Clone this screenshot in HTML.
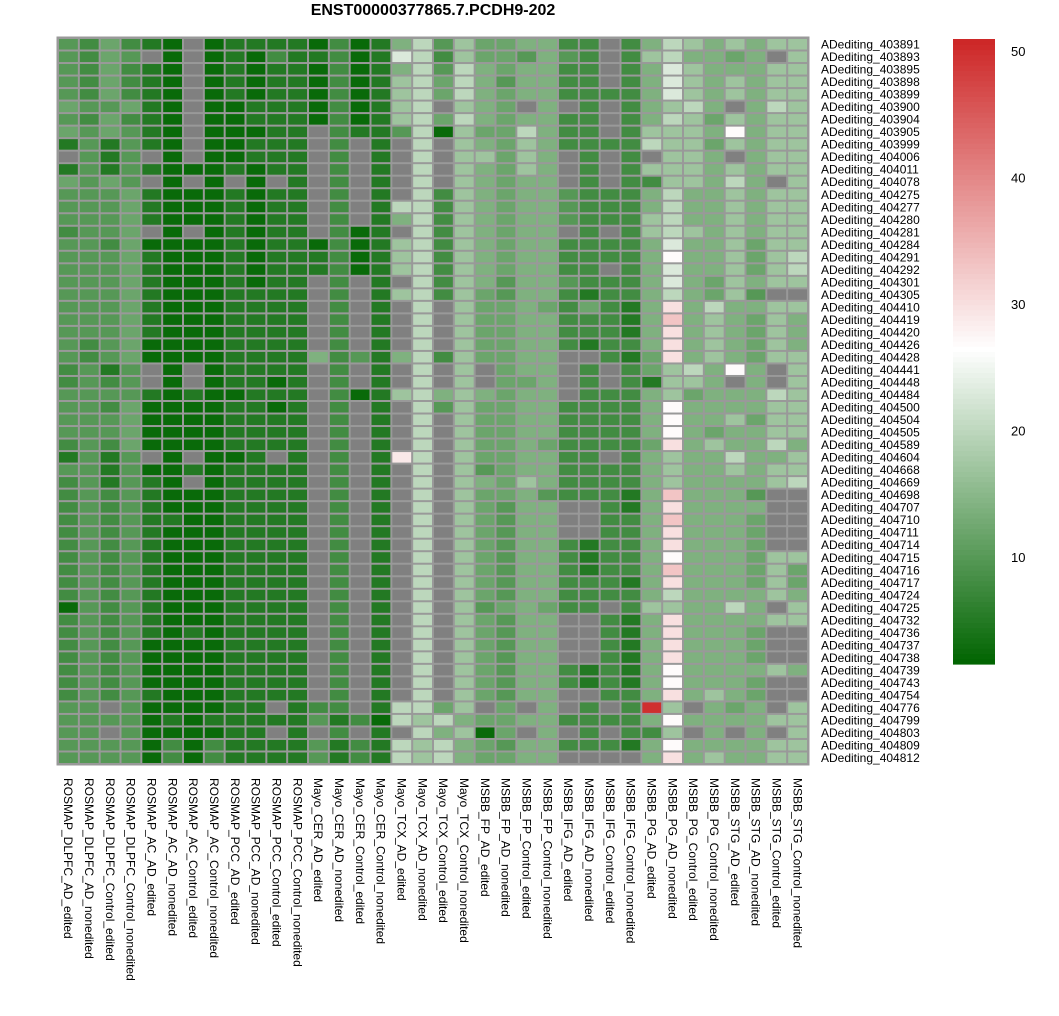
<!DOCTYPE html>
<html><head><meta charset="utf-8">
<style>
html,body{margin:0;padding:0;background:#fff;}
svg{display:block;font-family:"Liberation Sans",Arial,sans-serif;}
</style></head>
<body>
<svg id="chart" width="1059" height="1016" viewBox="0 0 1059 1016" xmlns="http://www.w3.org/2000/svg">
<text x="433" y="15" font-size="16" font-weight="bold" text-anchor="middle" fill="#000">ENST00000377865.7.PCDH9-202</text>
<g id="cells"></g>
<g id="rowlabels"></g>
<g id="collabels"></g>
<g id="legend"></g>
</svg>
<script>
const columns = ["ROSMAP_DLPFC_AD_edited","ROSMAP_DLPFC_AD_nonedited","ROSMAP_DLPFC_Control_edited","ROSMAP_DLPFC_Control_nonedited","ROSMAP_AC_AD_edited","ROSMAP_AC_AD_nonedited","ROSMAP_AC_Control_edited","ROSMAP_AC_Control_nonedited","ROSMAP_PCC_AD_edited","ROSMAP_PCC_AD_nonedited","ROSMAP_PCC_Control_edited","ROSMAP_PCC_Control_nonedited","Mayo_CER_AD_edited","Mayo_CER_AD_nonedited","Mayo_CER_Control_edited","Mayo_CER_Control_nonedited","Mayo_TCX_AD_edited","Mayo_TCX_AD_nonedited","Mayo_TCX_Control_edited","Mayo_TCX_Control_nonedited","MSBB_FP_AD_edited","MSBB_FP_AD_nonedited","MSBB_FP_Control_edited","MSBB_FP_Control_nonedited","MSBB_IFG_AD_edited","MSBB_IFG_AD_nonedited","MSBB_IFG_Control_edited","MSBB_IFG_Control_nonedited","MSBB_PG_AD_edited","MSBB_PG_AD_nonedited","MSBB_PG_Control_edited","MSBB_PG_Control_nonedited","MSBB_STG_AD_edited","MSBB_STG_AD_nonedited","MSBB_STG_Control_edited","MSBB_STG_Control_nonedited"];
const rows = ["403891","403893","403895","403898","403899","403900","403904","403905","403999","404006","404011","404078","404275","404277","404280","404281","404284","404291","404292","404301","404305","404410","404419","404420","404426","404428","404441","404448","404484","404500","404504","404505","404589","404604","404668","404669","404698","404707","404710","404711","404714","404715","404716","404717","404724","404725","404732","404736","404737","404738","404739","404743","404754","404776","404799","404803","404809","404812"].map(s=>"ADediting_"+s);
const legendTicks = [10,20,30,40,50];
const N = null;
const values = [
[10,8,12,8, 5,2.5,N,2.5,5,5,5,5, 2.5,8,2.5,5, 14,20,10,17, 12,12,14,14, 8,8,N,8, 14,20,17,14, 17,14,17,17],
[10,8,12,10, N,2.5,N,2.5,5,2.5,8,5, 5,8,2.5,5, 23,20,8,17, 12,12,10,14, 10,8,N,8, 17,20,14,14, 12,14,N,17],
[10,8,12,8, 5,2.5,N,2.5,5,2.5,5,5, 2.5,8,2.5,5, 14,20,10,20, 14,12,14,14, 8,8,N,8, 14,23,17,14, 14,14,17,17],
[10,8,12,8, 5,2.5,N,2.5,5,2.5,5,5, 2.5,8,2.5,5, 17,20,12,20, 14,10,14,14, 8,8,N,8, 14,23,17,14, 17,14,17,17],
[10,8,12,8, 5,2.5,N,2.5,5,2.5,5,5, 2.5,8,2.5,5, 17,20,12,20, 14,12,14,14, 8,8,8,8, 14,23,17,14, 17,14,17,17],
[12,10,10,12, 5,2.5,N,2.5,2.5,5,5,5, 2.5,8,2.5,5, 17,20,N,17, 14,12,N,14, N,8,N,8, 14,17,20,14, N,14,20,17],
[10,8,12,8, 5,2.5,N,2.5,2.5,5,5,5, 2.5,8,2.5,5, 17,20,12,20, 14,12,14,14, 8,8,N,8, 14,20,17,12, 17,14,17,17],
[12,10,12,10, 5,2.5,N,2.5,2.5,2.5,5,5, N,8,5,5, 10,20,2.5,17, 12,12,20,14, 8,8,N,8, 17,17,17,14, 27,14,17,17],
[5,10,5,10, 5,2.5,N,2.5,2.5,5,5,5, N,8,N,5, N,20,N,17, 14,12,17,14, 8,8,8,8, 20,17,17,12, 17,14,17,17],
[N,10,5,10, N,2.5,N,2.5,2.5,5,5,5, N,8,N,5, N,20,N,17, 17,12,17,14, N,8,N,8, N,17,17,14, N,14,17,17],
[5,10,5,10, 5,2.5,2.5,2.5,5,2.5,5,5, N,8,N,5, N,20,N,17, 14,12,17,14, N,8,N,8, 17,17,17,14, 17,14,17,17],
[12,10,12,10, N,2.5,N,2.5,N,2.5,N,5, N,8,N,5, N,20,N,17, 14,12,14,14, N,8,N,8, 8,17,17,14, 20,14,N,17],
[10,10,10,12, 5,2.5,2.5,2.5,5,2.5,5,5, N,8,N,5, N,20,8,17, 14,12,14,14, 10,8,8,8, 14,20,14,14, 17,14,17,17],
[10,10,10,12, 5,2.5,2.5,2.5,5,2.5,5,5, N,8,N,5, 20,20,8,17, 14,12,14,14, 10,8,8,8, 14,20,14,14, 17,14,17,17],
[10,10,10,12, 5,2.5,2.5,2.5,5,2.5,5,5, N,8,N,5, 14,20,8,17, 14,12,14,14, 10,8,8,8, 17,20,14,14, 17,14,17,17],
[8,10,10,12, N,2.5,N,2.5,5,2.5,5,5, N,8,2.5,5, N,20,8,17, 14,12,14,14, N,8,N,8, 17,20,17,14, 17,14,17,17],
[10,10,8,12, 2.5,2.5,2.5,2.5,5,2.5,5,5, 2.5,8,2.5,5, 17,20,8,17, 14,12,14,14, 8,8,8,8, 14,23,14,14, 17,12,17,17],
[10,10,10,12, 5,2.5,2.5,2.5,5,2.5,5,5, 5,8,2.5,5, 17,20,8,17, 14,12,14,14, 8,8,8,8, 14,27,14,14, 17,12,17,20],
[10,10,10,12, 5,2.5,2.5,2.5,5,2.5,5,5, 5,8,2.5,5, 17,20,8,17, 14,12,14,14, 8,8,N,8, 14,23,14,14, 17,12,17,20],
[10,10,10,12, 5,2.5,2.5,2.5,5,2.5,5,5, N,8,N,5, N,20,8,17, 14,10,14,14, 10,8,8,8, 14,23,14,12, 17,14,17,17],
[10,10,10,12, 5,2.5,2.5,2.5,5,5,5,5, N,8,N,5, 17,20,8,17, 12,10,14,14, 8,5,8,8, 14,20,14,12, 17,10,N,N],
[10,10,10,12, 5,2.5,2.5,2.5,5,5,5,5, N,8,N,5, N,20,N,17, 12,12,14,12, 8,12,8,5, 14,30,14,20, 14,14,17,17],
[10,10,10,12, 5,2.5,2.5,2.5,5,5,5,5, N,8,N,5, N,20,N,17, 12,12,14,14, 8,8,8,5, 14,33,14,17, 14,12,17,14],
[10,10,10,12, 5,2.5,2.5,2.5,5,5,5,5, N,8,N,5, N,20,N,17, 12,12,14,14, 8,8,8,5, 14,30,14,17, 14,12,17,14],
[10,8,10,12, 2.5,2.5,2.5,2.5,5,5,5,5, N,8,N,5, N,20,N,17, 12,12,14,14, 8,5,8,8, 14,30,14,17, 14,12,17,14],
[10,8,10,12, 2.5,2.5,2.5,2.5,5,5,5,5, 14,8,10,5, 14,20,8,17, 12,12,14,14, N,N,8,5, 12,30,14,17, 14,12,17,17],
[8,10,5,10, N,2.5,N,2.5,5,5,5,5, N,8,N,5, N,20,N,17, N,12,14,14, N,8,N,8, 12,17,20,14, 27,14,N,17],
[8,10,8,10, N,2.5,N,2.5,5,5,2.5,5, N,8,N,5, N,20,N,17, N,12,12,14, N,8,N,8, 5,17,17,14, N,14,N,17],
[10,10,10,10, 5,2.5,5,2.5,2.5,5,5,5, N,8,2.5,5, 17,20,14,17, 14,12,14,14, N,8,8,8, 14,17,12,14, 14,14,20,17],
[10,10,8,12, 2.5,2.5,2.5,2.5,5,5,2.5,5, N,8,N,5, N,20,10,17, 12,12,14,14, 8,8,8,8, 14,27,14,14, 14,14,17,17],
[10,10,10,12, 2.5,2.5,2.5,2.5,5,5,5,5, N,8,N,5, N,20,N,17, 12,12,14,14, 8,8,8,8, 14,27,14,14, 17,12,17,17],
[10,10,10,12, 2.5,2.5,2.5,2.5,5,5,5,5, N,8,N,5, N,20,N,17, 12,12,14,14, 8,8,8,8, 14,27,14,12, 14,14,17,17],
[8,10,8,12, 2.5,2.5,2.5,2.5,5,5,5,5, N,8,N,5, N,20,N,17, 12,12,14,12, 8,8,8,8, 12,30,14,17, 14,14,20,14],
[5,10,5,10, N,2.5,N,2.5,2.5,5,N,5, N,8,N,5, 29,20,N,17, 12,12,14,14, 8,8,N,8, 14,17,14,14, 20,14,14,17],
[10,10,5,10, 2.5,2.5,5,2.5,5,5,5,5, N,8,N,5, N,20,N,17, 10,12,14,14, 8,8,8,8, 14,17,14,14, 17,14,17,17],
[8,10,5,10, 5,2.5,N,2.5,5,5,5,5, N,8,N,5, N,20,N,17, 14,12,17,14, 8,8,8,8, 14,17,14,14, 14,14,17,20],
[8,10,8,10, 5,2.5,2.5,2.5,5,5,5,5, N,8,N,5, N,20,N,17, 12,12,14,10, 8,8,8,5, 14,33,14,14, 14,10,N,N],
[8,10,8,10, 5,2.5,2.5,2.5,5,5,5,5, N,8,N,5, N,20,N,17, 12,10,14,14, N,N,8,5, 14,30,14,14, 14,14,N,N],
[8,10,8,10, 5,5,2.5,2.5,5,5,5,5, N,8,N,5, N,20,N,17, 12,10,14,14, N,N,8,8, 14,33,14,14, 14,12,N,N],
[8,10,8,10, 5,2.5,2.5,2.5,5,5,5,5, N,8,N,5, N,20,N,17, 12,10,14,14, N,N,8,8, 14,30,14,14, 14,12,N,N],
[8,10,8,10, 5,2.5,2.5,2.5,5,5,5,5, N,8,N,5, N,20,N,17, 12,10,14,14, 8,5,8,8, 14,30,14,14, 14,12,N,N],
[8,10,8,10, 5,2.5,2.5,2.5,5,5,5,5, N,8,N,5, N,20,N,17, 12,10,14,14, 8,5,8,8, 14,27,14,14, 14,12,17,17],
[8,10,8,10, 5,2.5,2.5,2.5,5,5,5,5, N,8,N,5, N,20,N,17, 12,10,14,14, 8,5,8,8, 14,33,14,14, 14,12,17,12],
[8,10,8,10, 5,2.5,2.5,2.5,5,5,5,5, N,8,N,5, N,20,N,17, 12,10,14,14, 8,8,8,5, 14,30,14,14, 14,12,17,12],
[8,10,8,10, 5,2.5,2.5,2.5,5,5,5,5, N,8,N,5, N,20,N,17, 12,10,14,14, 8,8,8,8, 14,20,14,14, 14,14,17,14],
[2.5,10,8,10, 5,2.5,2.5,2.5,5,5,5,5, N,8,N,5, N,20,N,17, 10,12,14,12, 8,8,N,8, 17,17,14,14, 20,14,N,17],
[8,10,8,10, 5,2.5,2.5,2.5,5,5,5,5, N,8,N,5, N,20,N,17, 12,10,14,14, N,N,8,5, 14,30,14,14, 14,14,17,17],
[8,10,8,10, 5,2.5,5,2.5,5,5,5,5, N,8,N,5, N,20,N,17, 12,10,14,14, N,N,8,5, 14,30,14,14, 14,12,N,N],
[8,10,8,10, 2.5,2.5,2.5,2.5,5,5,5,5, N,8,N,5, N,20,N,17, 12,10,14,14, N,N,8,5, 14,30,14,14, 14,12,N,N],
[8,10,8,10, 2.5,2.5,2.5,2.5,5,5,5,5, N,8,N,5, N,20,N,17, 12,10,14,14, N,N,8,5, 14,30,14,14, 14,12,N,N],
[8,10,8,10, 2.5,2.5,2.5,2.5,5,5,5,5, N,8,N,5, N,20,N,17, 12,10,14,14, 8,5,8,5, 14,27,14,14, 14,14,17,14],
[8,10,8,10, 2.5,2.5,2.5,2.5,5,5,5,5, N,8,N,5, N,20,N,17, 12,10,14,14, 8,5,8,5, 14,27,14,14, 14,12,N,N],
[8,10,8,10, 5,2.5,2.5,2.5,5,5,5,5, N,8,N,5, N,20,N,17, 12,10,14,14, N,N,8,8, 14,30,14,17, 14,12,N,N],
[10,10,N,10, 2.5,2.5,2.5,2.5,5,5,N,5, 8,8,N,5, 20,20,12,17, N,12,N,14, N,8,N,8, 50,17,N,14, 12,14,N,17],
[10,10,10,10, 2.5,5,2.5,5,5,5,5,5, 10,5,8,2.5, 20,17,20,14, 12,12,14,14, 8,8,8,8, 14,27,14,14, 14,14,17,17],
[10,10,N,10, 2.5,2.5,2.5,2.5,5,5,N,5, N,8,N,5, N,20,14,17, 2.5,12,N,14, N,8,N,8, 8,17,N,14, N,14,N,17],
[10,10,10,10, 2.5,8,2.5,8,5,5,5,5, 10,5,8,5, 20,17,20,14, 12,10,14,14, 8,8,8,5, 14,27,14,14, 14,14,17,17],
[10,10,10,10, 2.5,8,2.5,8,5,5,5,5, 10,5,8,5, 20,17,20,14, 12,12,14,14, N,N,N,N, 14,30,14,17, 14,14,17,17]
];

const NS = "http://www.w3.org/2000/svg";
const X0 = 58, Y0 = 38, GW = 750, GH = 726;
const cw = GW / columns.length, ch = GH / rows.length;
const vMin = 1.6, vMax = 51.0, vMid = 26.5;
const cLow = [0,100,0], cMid = [255,255,255], cHigh = [205,38,38];
function colorScale(v){
  let a, b, t;
  if (v <= vMid){ a = cLow; b = cMid; t = (v - vMin)/(vMid - vMin); }
  else { a = cMid; b = cHigh; t = (v - vMid)/(vMax - vMid); }
  t = Math.max(0, Math.min(1, t));
  const c = a.map((x,i)=>Math.round(x + (b[i]-x)*t));
  return "rgb(" + c.join(",") + ")";
}
function xScale(i){ return X0 + i*cw; }
function yScale(j){ return Y0 + j*ch; }
function mk(tag, attrs){ const e = document.createElementNS(NS, tag); for (const k in attrs) e.setAttribute(k, attrs[k]); return e; }

const cells = document.getElementById("cells");
const bg = mk("rect", {x: X0-1.5, y: Y0-1.5, width: GW+3, height: GH+3, fill: "#999999"});


cells.appendChild(bg);
values.forEach((row, j) => {
  row.forEach((v, i) => {
    const r = mk("rect", {x: xScale(i)+1, y: yScale(j)+1, width: cw-2, height: ch-2, fill: v === null ? "#808080" : colorScale(v)});
    
    
    cells.appendChild(r);
  });
});

const rl = document.getElementById("rowlabels");
rows.forEach((name, j) => {
  const t = mk("text", {x: 821, y: yScale(j) + ch/2 + 4.3, "font-size": 12, fill: "#000"});
  t.textContent = name;
  
  
  rl.appendChild(t);
});

const cl = document.getElementById("collabels");
columns.forEach((name, i) => {
  const x = xScale(i) + cw/2 - 4.3, y = 778;
  const t = mk("text", {x: x, y: y, "font-size": 12, fill: "#000", transform: "rotate(90 " + x + " " + y + ")"});
  t.textContent = name;
  
  
  cl.appendChild(t);
});

const lg = document.getElementById("legend");
const LX = 953, LW = 42, LY0 = 39, LY1 = 664;
function lyScale(v){ return LY1 - (v - vMin)/(vMax - vMin)*(LY1 - LY0); }
const steps = 120;
for (let k = 0; k < steps; k++){
  const v0 = vMin + (vMax - vMin)*k/steps, v1 = vMin + (vMax - vMin)*(k+1)/steps;
  const r = mk("rect", {x: LX, y: lyScale(v1), width: LW, height: lyScale(v0)-lyScale(v1)+0.6, fill: colorScale((v0+v1)/2)});
  
  
  lg.appendChild(r);
}
legendTicks.forEach(v => {
  const t = mk("text", {x: 1011, y: lyScale(v) + 4.5, "font-size": 13, fill: "#000"});
  t.textContent = String(v);
  
  
  lg.appendChild(t);
});
</script>
</body></html>
